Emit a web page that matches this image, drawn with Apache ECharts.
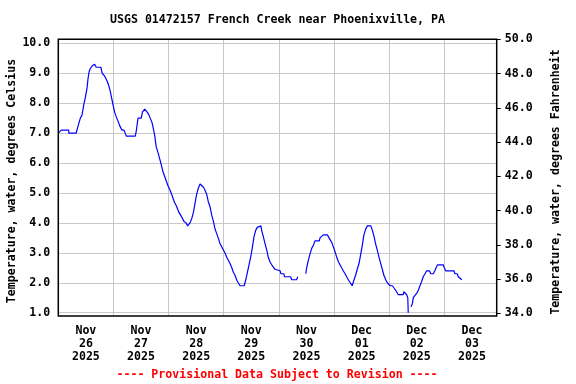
<!DOCTYPE html>
<html><head><meta charset="utf-8">
<script src="https://cdn.jsdelivr.net/npm/echarts@6/dist/echarts.min.js"></script>
<style>html,body{margin:0;padding:0;background:#fff}#c{width:576px;height:384px}</style>
</head><body><div id="c"></div>
<script>
// Hours since 2025-11-26 00:00
var hours = [0,1.3,4.5,4.6,7.8,8.1,9.6,10.3,11.1,11.8,12.5,12.9,13.4,13.9,14.8,15.8,16.5,18.5,19.1,20.2,21.2,21.9,22.6,23.4,23.8,24.5,25.2,26.0,26.7,27.7,28.6,29.6,33.5,33.9,34.7,36.1,36.6,37.6,38.7,39.5,40.0,40.8,41.5,42.0,42.6,43.4,44.1,44.8,45.6,46.3,47.0,47.7,48.6,49.6,50.5,51.5,52.5,53.7,54.7,55.6,56.3,57.3,58.1,58.8,59.5,60.2,60.9,61.7,62.4,63.1,63.8,64.6,65.3,66.0,66.8,67.5,68.2,68.9,69.6,70.4,71.1,71.8,72.5,73.3,74.0,74.7,75.5,76.2,76.9,77.6,78.3,79.1,80.9,81.6,82.3,83.0,83.7,84.4,85.2,85.9,86.6,87.3,88.2,88.5,89.2,90.0,90.7,91.4,92.1,92.9,93.6,94.3,96.5,96.9,98.2,98.4,101.1,101.6,103.7,104.2,106.0,107.7,108.1,108.8,109.5,110.3,111.0,111.7,113.6,113.9,115.3,117.1,117.5,118.2,119.0,119.7,120.4,121.2,121.9,122.6,123.3,124.0,124.8,125.5,126.2,126.9,127.9,128.7,129.4,130.1,130.9,131.6,132.3,133.0,133.8,134.5,136.0,136.7,137.4,138.1,138.8,139.6,140.3,141.0,141.7,142.5,143.2,143.6,144.4,145.4,145.8,146.8,147.5,148.0,150.1,150.4,151.2,151.6,152.1,152.3,152.9,153.5,154.1,154.5,155.2,156.0,156.7,157.4,158.2,158.8,159.6,160.3,161.5,162.1,163.2,163.9,164.4,165.1,167.5,168.0,168.6,172.2,172.6,173.6,174.1,175.6];
var tempC = [7.0,7.1,7.1,7.0,7.0,7.1,7.5,7.6,7.95,8.2,8.5,8.8,9.05,9.15,9.25,9.3,9.2,9.2,9.0,8.9,8.75,8.6,8.4,8.1,7.95,7.7,7.55,7.4,7.25,7.1,7.1,6.9,6.9,7.05,7.5,7.5,7.7,7.8,7.7,7.6,7.5,7.35,7.1,6.9,6.55,6.35,6.15,5.95,5.7,5.55,5.4,5.25,5.1,4.9,4.7,4.55,4.35,4.2,4.05,4.0,3.9,4.0,4.15,4.35,4.65,4.95,5.15,5.3,5.3,5.2,5.1,4.95,4.7,4.55,4.25,4.05,3.8,3.65,3.5,3.3,3.2,3.1,3.0,2.85,2.75,2.65,2.5,2.35,2.25,2.1,2.0,1.9,1.9,2.1,2.35,2.6,2.85,3.15,3.55,3.75,3.85,3.9,3.9,3.75,3.55,3.3,3.1,2.85,2.7,2.6,2.55,2.45,2.4,2.3,2.3,2.2,2.2,2.1,2.1,2.2,null,2.3,2.5,2.75,2.95,3.15,3.25,3.4,3.4,3.5,3.6,3.6,3.55,3.45,3.35,3.2,3.05,2.85,2.7,2.6,2.5,2.4,2.3,2.2,2.1,2.05,1.9,2.1,2.25,2.45,2.65,2.95,3.25,3.6,3.8,3.9,3.9,3.75,3.55,3.3,3.1,2.85,2.65,2.45,2.25,2.1,2.0,1.95,1.9,1.9,1.85,1.75,1.7,1.6,1.6,1.7,1.7,1.6,1.5,1.0,null,1.2,1.3,1.5,1.5,1.65,1.75,1.9,2.05,2.2,2.3,2.4,2.4,2.3,2.3,2.4,2.5,2.6,2.6,2.5,2.4,2.4,2.3,2.3,2.2,2.1];
var dayLabels = ['Nov\n26\n2025','Nov\n27\n2025','Nov\n28\n2025','Nov\n29\n2025','Nov\n30\n2025','Dec\n01\n2025','Dec\n02\n2025','Dec\n03\n2025'];
var titleText = 'USGS 01472157 French Creek near Phoenixville, PA';
var leftName = 'Temperature, water, degrees Celsius';
var rightName = 'Temperature, water, degrees Fahrenheit';
var footText = '---- Provisional Data Subject to Revision ----';

var FONT = '"DejaVu Sans Mono", "Liberation Mono", monospace';
var FS = 11.6;
var seriesData = hours.map(function(h, i){ return [h, tempC[i] === null ? null : tempC[i]]; });

var L = 58.3, W = 438.4;
var chart = echarts.init(document.getElementById('c'), null, {renderer: 'canvas'});
chart.setOption({
  animation: false,
  backgroundColor: '#fff',
  grid: [
    {left: L, top: 39.3, width: W, height: 276.7, show: true, borderColor: '#000', borderWidth: 1.5, backgroundColor: 'transparent', z: 5},
    {left: L, top: 43.3, width: W, height: 269.4, show: false},
    {left: L, top: 39.3, width: W, height: 274.0, show: false},
    {left: L, top: 300, width: 441.2, height: 16, show: false}
  ],
  xAxis: [
    {gridIndex: 0, type: 'value', min: 0, max: 190.8, interval: 24,
     axisLine: {show: false, onZero: false}, axisTick: {show: false}, axisLabel: {show: false},
     splitLine: {show: true, lineStyle: {color: '#c8c8c8', width: 1}}},
    {gridIndex: 1, type: 'value', min: 0, max: 1, show: false},
    {gridIndex: 2, type: 'value', min: 0, max: 1, show: false},
    {gridIndex: 3, type: 'category', data: dayLabels, boundaryGap: true,
     axisLine: {show: false, onZero: false}, axisTick: {show: false}, splitLine: {show: false},
     axisLabel: {interval: 0, margin: 8, fontFamily: FONT, fontWeight: 'bold', fontSize: FS, lineHeight: 13, color: '#000'}}
  ],
  yAxis: [
    {gridIndex: 0, type: 'value', min: 0.889, max: 10.134, show: false},
    {gridIndex: 1, type: 'value', min: 1, max: 10, interval: 1,
     axisLine: {show: false, onZero: false}, axisTick: {show: false},
     axisLabel: {margin: 8, fontFamily: FONT, fontWeight: 'bold', fontSize: FS, color: '#000',
       formatter: function(v){ return v.toFixed(1); }},
     splitLine: {show: true, lineStyle: {color: '#c8c8c8', width: 1}}},
    {gridIndex: 2, type: 'value', position: 'right', min: 34, max: 50, interval: 2,
     axisLine: {show: false, onZero: false}, axisTick: {show: true, inside: false, length: 4, lineStyle: {color: '#000', width: 1}},
     axisLabel: {margin: 8, fontFamily: FONT, fontWeight: 'bold', fontSize: FS, color: '#000',
       formatter: function(v){ return v.toFixed(1); }},
     splitLine: {show: false}},
    {gridIndex: 3, type: 'value', show: false}
  ],
  series: [{
    type: 'line', xAxisIndex: 0, yAxisIndex: 0, data: seriesData,
    showSymbol: false, connectNulls: false, z: 3,
    lineStyle: {color: '#0000ff', width: 1.2}
  }],
  graphic: [
    {type: 'text', x: 277.5, y: 20, style: {text: titleText, font: 'bold ' + FS + 'px ' + FONT, fill: '#000', align: 'center', verticalAlign: 'middle'}},
    {type: 'text', x: 12, y: 181, rotation: Math.PI/2, style: {text: leftName, font: 'bold ' + FS + 'px ' + FONT, fill: '#000', align: 'center', verticalAlign: 'middle'}},
    {type: 'text', x: 556, y: 182, rotation: Math.PI/2, style: {text: rightName, font: 'bold ' + FS + 'px ' + FONT, fill: '#000', align: 'center', verticalAlign: 'middle'}},
    {type: 'text', x: 277, y: 375, style: {text: footText, font: 'bold ' + FS + 'px ' + FONT, fill: '#ff0000', align: 'center', verticalAlign: 'middle'}}
  ]
});
</script>
</body></html>
